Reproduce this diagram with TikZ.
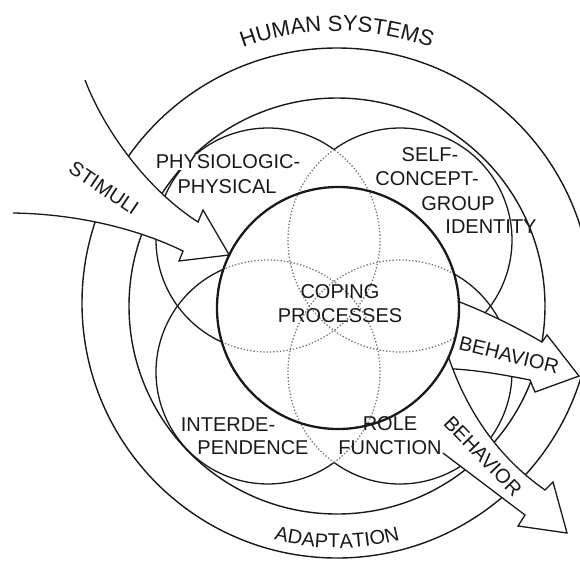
\documentclass[tikz,border=0pt]{standalone}
\usepackage{fontspec}
\setmainfont{Liberation Sans}
\usetikzlibrary{decorations.text}
\newcommand{\lblsize}{\fontsize{20}{24}\selectfont}
\newcommand{\arcsize}{\fontsize{22}{26}\selectfont}

\begin{document}
\begin{tikzpicture}[x=1pt,y=1pt,
    ring/.style={line width=1.4pt,draw=black!90},
    petal/.style={line width=1.3pt,draw=black!90},
    petaldot/.style={line width=1.3pt,draw=black!55,dash pattern=on 1.3pt off 2pt},
    flow/.style={line width=1.3pt,draw=black!90,line join=miter},
    lbl/.style={font=\lblsize,inner sep=1pt,text=black!90}]
  \useasboundingbox (0,0) rectangle (580,-563);
  \clip (0,0) rectangle (580,-563);
  % centres
  \coordinate (hub) at (337,-303);
  \coordinate (hubin) at (337,-306);
  \coordinate (cop) at (338,-308);
  \coordinate (tl) at (268,-240);
  \coordinate (tr) at (400,-240);
  \coordinate (bl) at (268,-372);
  \coordinate (br) at (400,-372);
  % human systems and adaptation rings
  \draw[ring] (hub) circle (255pt);
  \draw[ring] (hubin) circle (208pt);
  % mode circles, solid part
  \draw[petal] ([shift={(53.9:112pt)}]tl) arc[start angle=53.9,end angle=245.69,radius=112pt];
  \draw[petal] ([shift={(-60.36:112pt)}]tr) arc[start angle=-60.36,end angle=126.1,radius=112pt];
  \draw[petal] ([shift={(113.49:112pt)}]bl) arc[start angle=113.49,end angle=306.1,radius=112pt];
  \draw[petal] ([shift={(233.9:112pt)}]br) arc[start angle=233.9,end angle=421.11,radius=112pt];
  % stimuli arrow
  \coordinate (s1) at (85,-80);
  \coordinate (s2) at (198,-222);
  \coordinate (s3) at (203,-210);
  \coordinate (s4) at ([shift={(154:121pt)}]cop);
  \coordinate (s5) at (179,-261);
  \coordinate (s6) at (183,-251);
  \coordinate (s7) at (13,-213);
  \draw[flow,fill=white] (s1) .. controls (105,-132) and (148,-190) .. (s2) -- (s3) -- (s4)
    -- (s5) -- (s6) .. controls (140,-230) and (80,-214) .. (s7);
  % behavior arrows
  \coordinate (ua1) at ([shift={(3:121pt)}]cop);
  \coordinate (ua2) at (542,-342);
  \coordinate (ua3) at (547,-335);
  \coordinate (ua4) at (579,-376);
  \coordinate (ua5) at (535,-392);
  \coordinate (ua6) at (530,-380);
  \coordinate (ua7) at ([shift={(-30:121pt)}]cop);
  \fill[white] (ua1) .. controls (488,-313) and (516,-327) .. (ua2) -- (ua3) -- (ua4) -- (ua5)
    -- (ua6) .. controls (500,-374) and (470,-369) .. (ua7)
    arc[start angle=-30,end angle=3,radius=121pt] -- cycle;
  \draw[flow] (ua1) .. controls (488,-313) and (516,-327) .. (ua2) -- (ua3) -- (ua4) -- (ua5)
    -- (ua6) .. controls (500,-374) and (470,-369) .. (ua7);
  \coordinate (la1) at ([shift={(-24:121pt)}]cop);
  \coordinate (la2) at (545,-490);
  \coordinate (la3) at (553,-482);
  \coordinate (la4) at (567,-533);
  \coordinate (la5) at (518,-526);
  \coordinate (la6) at (525,-515);
  \coordinate (la7) at (443,-453);
  \coordinate (la8) at ([shift={(-45:121pt)}]cop);
  \fill[white] (la1) .. controls (470,-420) and (505,-462) .. (la2) -- (la3) -- (la4) -- (la5)
    -- (la6) -- (la7) -- (la8) arc[start angle=-45,end angle=-24,radius=121pt] -- cycle;
  \draw[flow] (la1) .. controls (470,-420) and (505,-462) .. (la2) -- (la3) -- (la4) -- (la5)
    -- (la6) -- (la7);
  % mode circles, dotted part
  \draw[petaldot] ([shift={(-114.31:112pt)}]tl) arc[start angle=-114.31,end angle=53.9,radius=112pt];
  \draw[petaldot] ([shift={(126.1:112pt)}]tr) arc[start angle=126.1,end angle=299.64,radius=112pt];
  \draw[petaldot] ([shift={(-53.9:112pt)}]bl) arc[start angle=-53.9,end angle=113.49,radius=112pt];
  \draw[petaldot] ([shift={(61.11:112pt)}]br) arc[start angle=61.11,end angle=233.9,radius=112pt];
  % coping processes
  \draw[line width=2.3pt,draw=black!90] (cop) circle (121pt);
  % labels
  \path[decorate,decoration={text along path,text align=center,text color=black!90,
    text={|\arcsize|HUMAN SYSTEMS}}]
    ([shift={(125:272pt)}]hub) arc[start angle=125,end angle=55,radius=272pt];
  \path[decorate,decoration={text along path,text align=center,text color=black!90,
    text={|\lblsize|ADAPTATION}}]
    ([shift={(235:245pt)}]hub) arc[start angle=235,end angle=305,radius=245pt];
  \node[lbl,fill=white] (phys1) at (228,-162) {PHYSIOLOGIC-};
  \node[lbl,fill=white] (phys2) at (227,-187) {PHYSICAL};
  \node[lbl] (self1) at (430,-155) {SELF-};
  \node[lbl] (self2) at (427,-179) {CONCEPT-};
  \node[lbl] (self3) at (458,-204) {GROUP};
  \node[lbl] (self4) at (491,-227) {IDENTITY};
  \node[lbl,align=center] (coping) at (340,-304) {COPING\\PROCESSES};
  \node[lbl] (inter1) at (228,-425) {INTERDE-};
  \node[lbl] (inter2) at (253,-448) {PENDENCE};
  \node[lbl,align=center] (role) at (390,-436) {ROLE\\FUNCTION};
  \node[lbl,rotate=-34] (stim) at (104,-188) {STIMULI};
  \node[lbl,rotate=-14] (beh1) at (509,-355) {BEHAVIOR};
  \node[lbl,rotate=-46] (beh2) at (483,-456) {BEHAVIOR};
\end{tikzpicture}
\end{document}
